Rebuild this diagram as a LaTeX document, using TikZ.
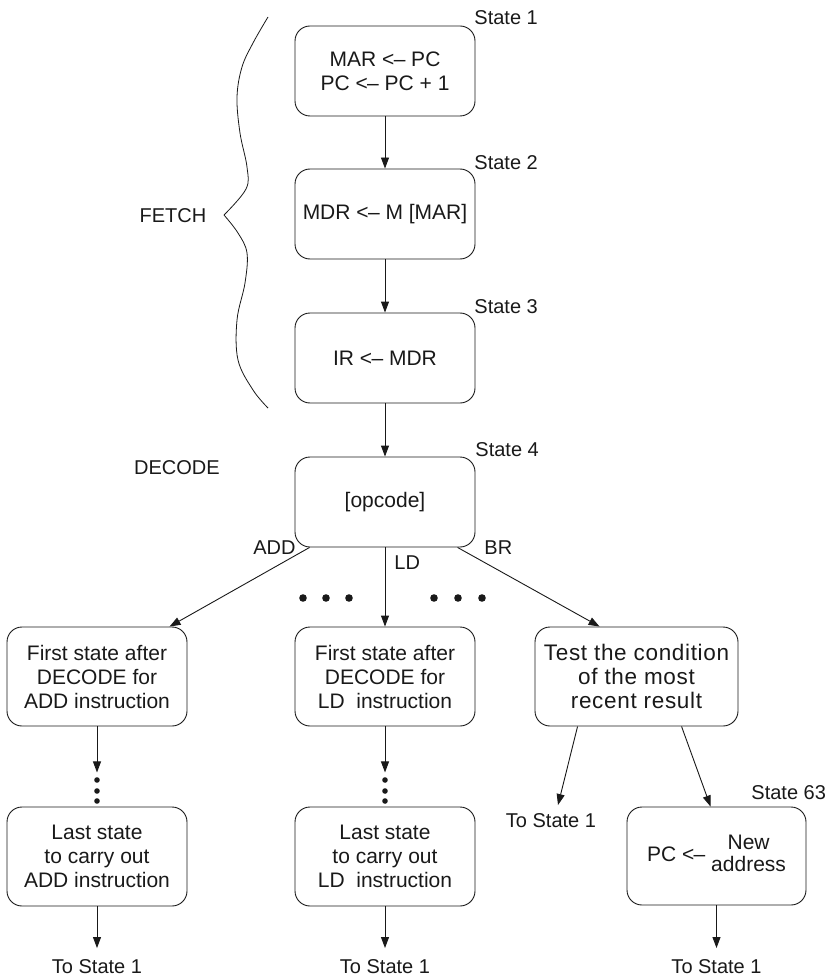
\documentclass[tikz,border=0pt]{standalone}
\usepackage{fontspec}
\setmainfont{Liberation Sans}
\newfontfamily\widefont[LetterSpace=3]{Liberation Sans}
\usetikzlibrary{arrows.meta,calc}
\newcommand\myla{<\kern-0.6pt–}
\begin{document}
\begin{tikzpicture}[x=1pt,y=-1pt,
  line width=0.9pt,
  every node/.style={text=black!90},
  stbox/.style={draw=black!90, rounded corners=15pt, minimum width=180pt, minimum height=90pt,
    align=center, inner sep=0pt, font=\fontsize{21}{24}\selectfont},
  tallbox/.style={stbox, minimum height=99pt},
  lbl/.style={font=\fontsize{20}{24}\selectfont, inner sep=0pt},
  tolbl/.style={font=\fontsize{20}{24}\selectfont, inner sep=0pt, outer ysep=11pt, anchor=base},
  arr/.style={draw=black!90, -{Triangle[length=11pt,width=8pt]}},
  dotc/.style={fill=black!90}]
\useasboundingbox (0,0) rectangle (833,976);

% fetch / decode states
\node[stbox] (b1) at (385,71) {MAR \myla\ PC\\PC \myla\ PC + 1};
\node[stbox] (b2) at (385,214) {MDR \myla\ M [MAR]};
\node[stbox] (b3) at (385,358) {IR \myla\ MDR};
\node[stbox] (b4) at (385,502) {[opcode]};

\node[lbl, anchor=west] (s1) at (474,18) {State 1};
\node[lbl, anchor=west] (s2) at (474,163) {State 2};
\node[lbl, anchor=west] (s3) at (474,307) {State 3};
\node[lbl, anchor=west] (s4) at (475,450) {State 4};

\node[lbl] (fetch) at (173,216) {FETCH};
\node[lbl] (decode) at (177,468) {DECODE};

% middle row
\node[tallbox] (a1) at (97,676.5) {First state after\\DECODE for\\ADD instruction};
\node[tallbox] (l1) at (385,676.5) {First state after\\DECODE for\\LD~ instruction};
\node[tallbox, minimum width=203pt, font=\fontsize{22.5}{24}\widefont] (r1) at (636.5,676.5) {Test the condition\\of the most\\recent result};

% bottom row
\node[tallbox] (a2) at (97,856.5) {Last state\\to carry out\\ADD instruction};
\node[tallbox] (l2) at (385,856.5) {Last state\\to carry out\\LD~ instruction};
\node[stbox, minimum width=179pt, minimum height=98pt] (p63) at (716.5,856)
  {PC \myla\ \begin{tabular}{@{}c@{}}New\\[-2pt]address\end{tabular}};
\node[lbl, anchor=west] (s63) at (751,793) {State 63};

% branch labels
\node[lbl, anchor=east] (add) at (296,548) {ADD};
\node[lbl, anchor=west] (ld) at (394,563) {LD};
\node[lbl, anchor=west] (br) at (484,548) {BR};

% to state labels
\node[tolbl] (ta) at (97,973) {To State 1};
\node[tolbl] (tl) at (385,973) {To State 1};
\node[tolbl] (tr) at (551,827) {To State 1};
\node[tolbl] (tp) at (716.5,973) {To State 1};

% arrows
\draw[arr] (b1.south) -- (b2.north);
\draw[arr] (b2.south) -- (b3.north);
\draw[arr] (b3.south) -- (b4.north);
\draw[arr] ($(b4.south west)+(15,0)$) -- ($(a1.north west)+(163,0)$);
\draw[arr] (b4.south) -- (l1.north);
\draw[arr] ($(b4.south west)+(163,0)$) -- ($(r1.north west)+(65,0)$);

\coordinate (a1e) at ($(a1.south)+(0,46)$);
\coordinate (l1e) at ($(l1.south)+(0,46)$);
\draw[arr] (a1.south) -- (a1e);
\draw[arr] (l1.south) -- (l1e);
\draw[arr] (a2.south) -- (ta.north);
\draw[arr] (l2.south) -- (tl.north);
\draw[arr] ($(r1.south west)+(43,0)$) -- ($(tr.north)+(7,3)$);
\draw[arr] ($(r1.south west)+(147,0)$) -- ($(p63.north west)+(84,0)$);
\draw[arr] (p63.south) -- (tp.north);

% dots
\foreach \x in {303,326,349,434,458,482} \fill[dotc] (\x,598) circle (3.8pt);
\foreach \y in {780,791,801} {
  \fill[dotc] (97,\y) circle (2.8pt);
  \fill[dotc] (385,\y) circle (2.8pt);
}

% brace
\draw[draw=black!90, line width=0.8pt] plot[smooth, tension=0.6] coordinates
  {(268,17) (253,43) (242,67) (237,97) (240,133) (247,167) (246,189) (224,215)};
\draw[draw=black!90, line width=0.8pt] plot[smooth, tension=0.6] coordinates
  {(224,215) (238,233) (247,253) (245,283) (237,320) (238,360) (253,390) (268,408)};
\end{tikzpicture}
\end{document}
